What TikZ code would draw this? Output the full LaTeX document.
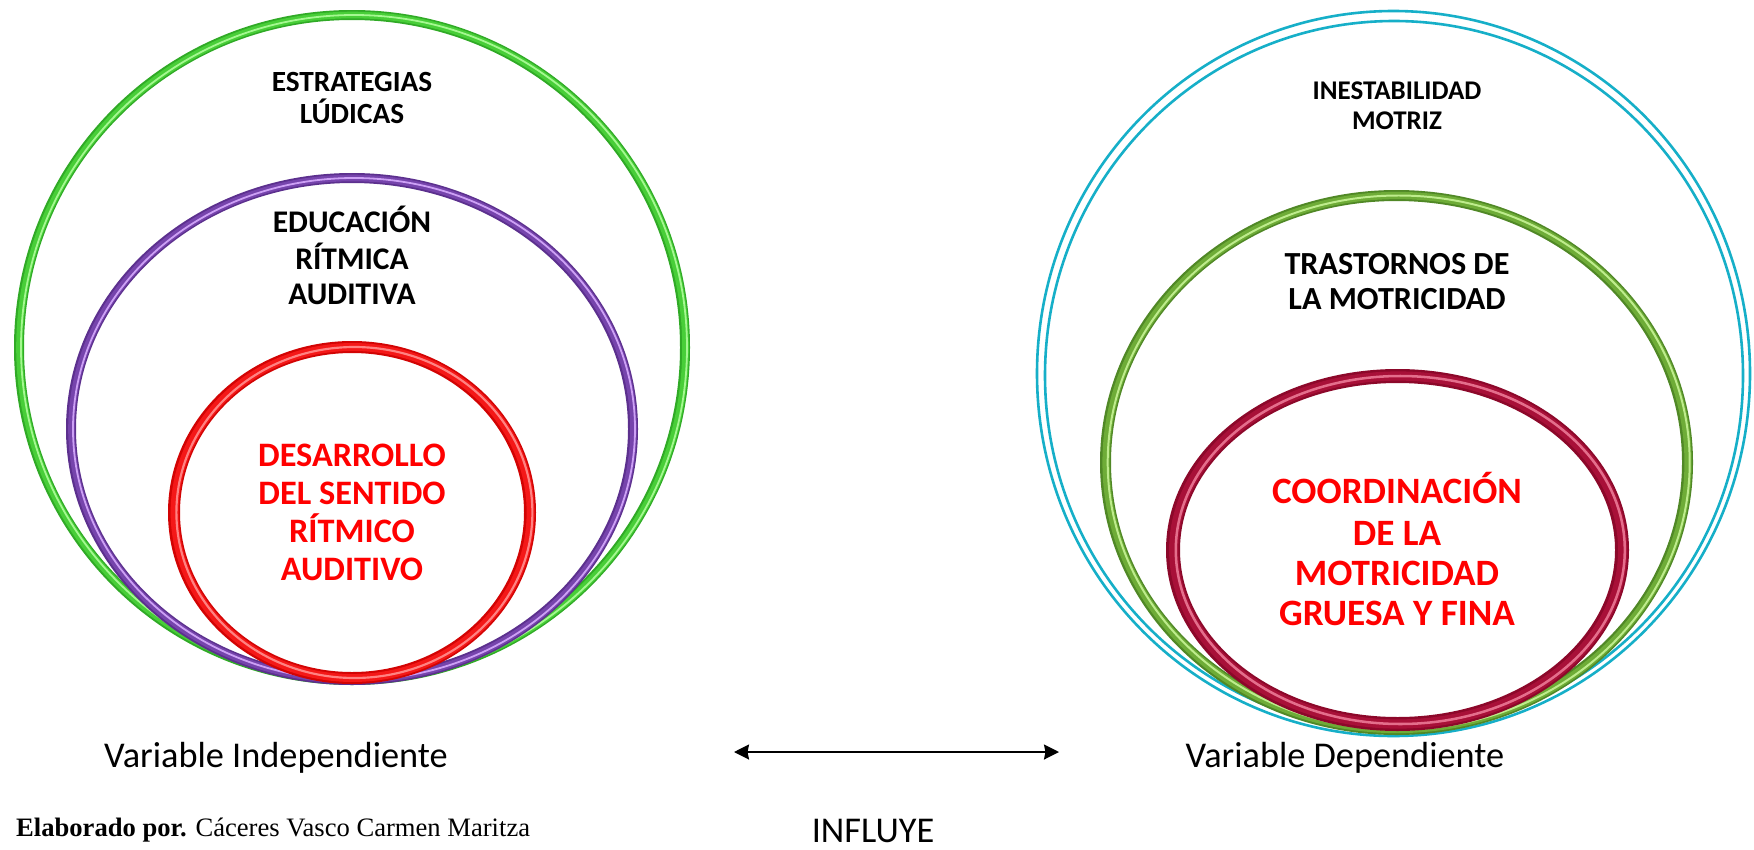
\documentclass[tikz,border=0pt]{standalone}
\usepackage{fontspec}
\setmainfont{Carlito}
\newfontfamily\timesf{Liberation Serif}
\usetikzlibrary{arrows.meta}
\definecolor{gdark}{RGB}{48,170,38}
\definecolor{gmid}{RGB}{72,206,56}
\definecolor{glight}{RGB}{165,248,145}
\definecolor{pdark}{RGB}{92,48,142}
\definecolor{pmid}{RGB}{118,68,172}
\definecolor{plight}{RGB}{205,160,245}
\definecolor{rdark}{RGB}{210,4,4}
\definecolor{rmid}{RGB}{244,24,24}
\definecolor{rlight}{RGB}{255,130,130}
\definecolor{cyanring}{RGB}{22,175,200}
\definecolor{odark}{RGB}{80,136,38}
\definecolor{omid}{RGB}{110,172,55}
\definecolor{olight}{RGB}{190,236,140}
\definecolor{cdark}{RGB}{140,8,42}
\definecolor{cmid}{RGB}{168,16,56}
\definecolor{clight}{RGB}{228,110,140}
\definecolor{txtred}{RGB}{255,0,0}
\newcommand{\tubering}[8]{%
  \draw[#6, line width=#5pt] (#1,#2) ellipse [x radius=#3pt, y radius=#4pt];
  \draw[#7, line width=0.66*#5pt] ({#1+0.05*#5},#2) ellipse [x radius=#3pt, y radius=#4pt];
  \draw[#8, line width=0.18*#5pt] ({#1+0.2*#5},#2) ellipse [x radius=#3pt, y radius=#4pt];
}
\tikzset{
  lblk/.style={font=\bfseries\fontsize{29.3}{29.3}\selectfont, inner sep=0pt, anchor=base, text=black},
  lblm/.style={font=\bfseries\fontsize{31.5}{31.5}\selectfont, inner sep=0pt, anchor=base, text=black},
  lblt/.style={font=\bfseries\fontsize{32.2}{32.2}\selectfont, inner sep=0pt, anchor=base, text=black},
  lblr/.style={font=\bfseries\fontsize{34.3}{34.3}\selectfont, inner sep=0pt, anchor=base, text=txtred},
  lblks/.style={font=\bfseries\fontsize{27}{27}\selectfont, inner sep=0pt, anchor=base, text=black},
  lblrr/.style={font=\bfseries\fontsize{37.2}{37.2}\selectfont, inner sep=0pt, anchor=base, text=txtred},
  bottxt/.style={font=\fontsize{36.3}{36.3}\selectfont, inner sep=0pt, anchor=base},
  cyanline/.style={cyanring, line width=2.6pt},
}
\begin{document}
\begin{tikzpicture}[x=1pt,y=-1pt]
\useasboundingbox (0,0) rectangle (1754,849);
\fill[white] (0,0) rectangle (1754,849);
% left rings
\tubering{352}{347.5}{333}{332.5}{10}{gdark}{gmid}{glight}
\tubering{352}{429}{281}{251}{10}{pdark}{pmid}{plight}
\tubering{352}{512.5}{178}{165.5}{12}{rdark}{rmid}{rlight}
% right rings
\draw[cyanline] (1393.5,373.5) ellipse [x radius=356.5pt, y radius=362.5pt];
\draw[cyanline] (1394,375.5) ellipse [x radius=349pt, y radius=354.5pt];
\tubering{1396.5}{462.5}{291}{267}{11}{odark}{omid}{olight}
\tubering{1397.5}{550}{224.5}{174}{14}{cdark}{cmid}{clight}
% left texts
\node[lblk] (e1) at (352,91) {ESTRATEGIAS};
\node[lblk] (e2) at (352,123) {LÚDICAS};
\node[lblm] (d1) at (352,232) {EDUCACIÓN};
\node[lblm] (d2) at (352,269) {RÍTMICA};
\node[lblm] (d3) at (352,304) {AUDITIVA};
\node[lblr] (s1) at (352,466) {DESARROLLO};
\node[lblr] (s2) at (352,504) {DEL SENTIDO};
\node[lblr] (s3) at (352,542) {RÍTMICO};
\node[lblr] (s4) at (352,580) {AUDITIVO};
% right texts
\node[lblks] (i1) at (1397,99) {INESTABILIDAD};
\node[lblks] (i2) at (1397,129) {MOTRIZ};
\node[lblt] (m1) at (1397,274) {TRASTORNOS DE};
\node[lblt] (m2) at (1397,309) {LA MOTRICIDAD};
\node[lblrr] (c1) at (1397,503) {COORDINACIÓN};
\node[lblrr] (c2) at (1397,545) {DE LA};
\node[lblrr] (c3) at (1397,585) {MOTRICIDAD};
\node[lblrr] (c4) at (1397,625) {GRUESA Y FINA};
% bottom
\node[bottxt] (vi) at (276,767) {Variable Independiente};
\node[bottxt] (vd) at (1345,767) {Variable Dependiente};
\coordinate (al) at (734,752);
\coordinate (ar) at (1059,752);
\draw[line width=2pt, {Stealth[length=15pt,width=15pt,inset=1.5pt]}-{Stealth[length=15pt,width=15pt,inset=1.5pt]}] (al) -- (ar);
\node[bottxt] (inf) at (873,842) {INFLUYE};
\node[inner sep=0pt, anchor=base west, font=\timesf\fontsize{26.6}{26.6}\selectfont] (elab) at (16,836) {\textbf{Elaborado por.} Cáceres Vasco Carmen Maritza};
\end{tikzpicture}
\end{document}
